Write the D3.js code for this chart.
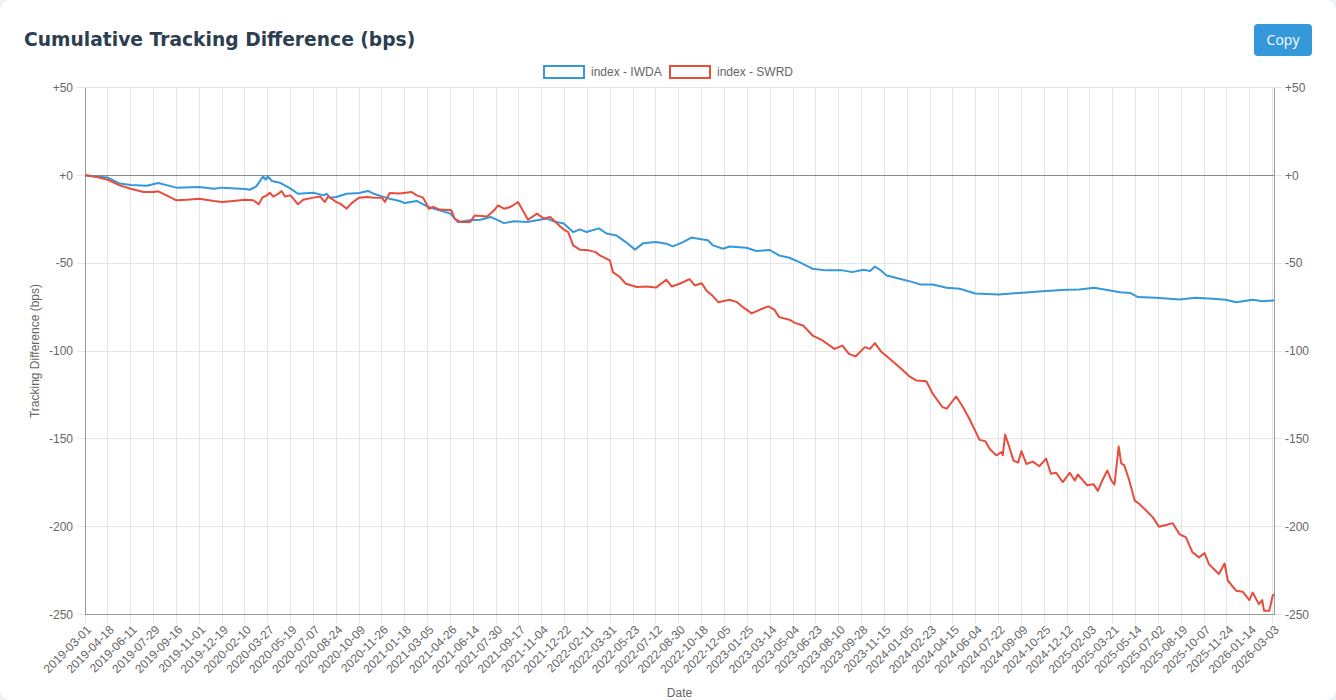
<!DOCTYPE html>
<html><head><meta charset="utf-8">
<script src="https://cdn.jsdelivr.net/npm/d3@7"></script>
<style>
html,body{margin:0;padding:0;background:#eef1f4;overflow:hidden}
svg{display:block}
</style></head>
<body>
<svg id="chart" width="1336" height="700"></svg>
<script>
const titleText = "Cumulative Tracking Difference (bps)";
const seriesNames = ["index - IWDA", "index - SWRD"];
const seriesColors = ["#3498db", "#e74c3c"];
const yTicks = [50, 0, -50, -100, -150, -200, -250];
const tickLabels = ["2019-03-01","2019-04-18","2019-06-11","2019-07-29","2019-09-16","2019-11-01","2019-12-19",
"2020-02-10","2020-03-27","2020-05-19","2020-07-07","2020-08-24","2020-10-09","2020-11-26",
"2021-01-18","2021-03-05","2021-04-26","2021-06-14","2021-07-30","2021-09-17","2021-11-04","2021-12-22",
"2022-02-11","2022-03-31","2022-05-23","2022-07-12","2022-08-30","2022-10-18","2022-12-05",
"2023-01-25","2023-03-14","2023-05-04","2023-06-23","2023-08-10","2023-09-28","2023-11-15",
"2024-01-05","2024-02-23","2024-04-15","2024-06-04","2024-07-22","2024-09-09","2024-10-25","2024-12-12",
"2025-02-03","2025-03-21","2025-05-14","2025-07-02","2025-08-19","2025-10-07","2025-11-24",
"2026-01-14","2026-03-03"];
const lastDataDate = "2026-03-05";

const iwdaDates = ["2019-03-01","2019-03-26","2019-04-18","2019-05-16","2019-06-11","2019-07-15","2019-08-08","2019-09-16","2019-11-01","2019-12-02","2019-12-19",
"2020-02-10","2020-02-20","2020-03-04","2020-03-18","2020-03-23","2020-03-27","2020-04-06","2020-04-24","2020-05-19","2020-06-04","2020-07-07","2020-07-28","2020-08-04","2020-08-11","2020-08-24","2020-09-14","2020-10-09","2020-10-28","2020-11-09","2020-11-26","2020-12-14",
"2021-01-06","2021-01-18","2021-02-11","2021-03-04","2021-04-01","2021-04-26","2021-05-12","2021-06-07","2021-06-28","2021-07-19","2021-08-16","2021-09-06","2021-10-04","2021-10-25","2021-11-15","2021-11-29","2021-12-20",
"2022-01-10","2022-01-25","2022-02-09","2022-03-07","2022-03-23","2022-04-14","2022-05-06","2022-05-27","2022-06-14","2022-07-12","2022-08-03","2022-08-17","2022-09-08","2022-09-26","2022-10-14","2022-10-31","2022-11-11","2022-12-02","2022-12-16",
"2023-01-23","2023-02-13","2023-03-13","2023-04-03","2023-04-26","2023-05-18","2023-06-16","2023-07-14","2023-08-18","2023-09-08","2023-10-02","2023-10-16","2023-10-26","2023-11-06","2023-11-20","2023-12-19",
"2024-01-17","2024-02-01","2024-02-29","2024-04-01","2024-04-30","2024-06-03","2024-07-23","2024-09-12","2024-10-29","2024-12-11",
"2025-01-09","2025-02-12","2025-03-07","2025-04-07","2025-05-02","2025-05-19","2025-06-27","2025-08-15","2025-09-19","2025-10-24","2025-11-21","2025-12-15",
"2026-01-20","2026-02-10","2026-03-03","2026-03-05"];
const iwdaValues = [0,-0.6,-1.3,-4.7,-5.5,-5.9,-4.4,-7.0,-6.7,-7.6,-7.0,
-7.8,-8.2,-6.3,-0.6,-2.5,-0.6,-3.2,-4.2,-7.6,-10.5,-9.9,-11.4,-10.5,-12.7,-12.3,-10.5,-10.1,-8.9,-10.5,-12.0,-13.3,
-14.6,-15.8,-14.6,-17.7,-19.9,-21.8,-26.6,-25.6,-25.3,-23.7,-27.2,-26.2,-26.6,-25.6,-24.6,-26.2,-27.4,
-32.3,-30.8,-32.3,-30.2,-33.1,-34.2,-38.0,-42.3,-38.6,-38.0,-38.9,-40.4,-38.0,-35.4,-36.2,-37.0,-39.9,-41.8,-40.5,
-41.2,-43.1,-42.5,-45.6,-46.9,-49.4,-53.2,-54.1,-54.1,-55.1,-53.8,-54.5,-51.9,-53.8,-57.0,-58.9,
-60.8,-62.1,-62.1,-64.0,-64.6,-67.3,-67.8,-66.8,-65.9,-65.1,
-65.0,-64.0,-65.1,-66.5,-67.0,-69.3,-69.7,-70.7,-69.7,-70.3,-70.8,-72.3,
-70.8,-71.7,-71.2,-71.2];

const swrdDates = ["2019-03-01","2019-03-26","2019-04-18","2019-05-16","2019-06-11","2019-07-08","2019-07-29","2019-08-08","2019-08-26","2019-09-16","2019-10-07","2019-11-01","2019-12-02","2019-12-19",
"2020-01-14","2020-02-10","2020-02-27","2020-03-09","2020-03-16","2020-03-25","2020-04-01","2020-04-09","2020-04-20","2020-04-28","2020-05-06","2020-05-19","2020-06-04","2020-06-15","2020-07-07","2020-07-21","2020-07-31","2020-08-07","2020-08-24","2020-09-01","2020-09-14","2020-09-24","2020-10-09","2020-10-26","2020-11-09","2020-11-26","2020-12-03","2020-12-14",
"2021-01-06","2021-02-01","2021-02-11","2021-02-24","2021-03-08","2021-03-18","2021-04-01","2021-04-28","2021-05-05","2021-05-17","2021-06-07","2021-06-17","2021-07-12","2021-07-26","2021-08-03","2021-08-16","2021-08-30","2021-09-15","2021-09-27","2021-10-06","2021-10-25","2021-11-08","2021-11-22","2021-12-06","2021-12-20","2021-12-30",
"2022-01-10","2022-01-25","2022-02-14","2022-02-28","2022-03-09","2022-03-30","2022-04-06","2022-04-22","2022-05-06","2022-05-31","2022-06-21","2022-07-12","2022-08-03","2022-08-15","2022-09-01","2022-09-22","2022-10-03","2022-10-18","2022-10-28","2022-11-11","2022-11-22","2022-12-16",
"2023-01-02","2023-01-16","2023-02-03","2023-02-21","2023-03-10","2023-03-23","2023-04-03","2023-04-26","2023-05-08","2023-05-26","2023-06-16","2023-07-07","2023-08-01","2023-08-18","2023-09-01","2023-09-15","2023-10-05","2023-10-16","2023-10-26","2023-11-09","2023-11-24","2023-12-19",
"2024-01-10","2024-01-25","2024-02-15","2024-02-29","2024-03-22","2024-04-01","2024-04-22","2024-05-07","2024-05-21","2024-06-12","2024-06-24","2024-07-03","2024-07-17","2024-07-29","2024-07-31","2024-08-05","2024-08-13","2024-08-23","2024-09-02","2024-09-09","2024-09-19","2024-10-02","2024-10-15","2024-10-29","2024-11-08","2024-11-19","2024-12-03","2024-12-18","2024-12-30",
"2025-01-06","2025-01-27","2025-02-10","2025-02-19","2025-02-28","2025-03-10","2025-03-18","2025-03-25","2025-03-28","2025-04-04","2025-04-10","2025-04-17","2025-04-29","2025-05-12","2025-05-22","2025-06-06","2025-06-20","2025-07-03","2025-07-18","2025-08-01","2025-08-15","2025-08-29","2025-09-12","2025-09-26","2025-10-08","2025-10-17","2025-10-31","2025-11-07","2025-11-19","2025-11-26","2025-12-15","2025-12-29",
"2026-01-13","2026-01-20","2026-02-02","2026-02-09","2026-02-13","2026-02-24","2026-03-03","2026-03-05"];
const swrdValues = [0,-1.0,-2.5,-5.7,-7.6,-9.5,-9.5,-9.1,-11.4,-14.2,-13.9,-13.3,-14.6,-15.2,
-14.6,-13.9,-14.2,-16.5,-12.7,-11.4,-9.9,-12.1,-10.6,-8.9,-12.0,-11.4,-16.5,-13.9,-12.7,-12.0,-15.2,-12.0,-15.2,-16.1,-19.0,-15.8,-12.7,-12.3,-12.7,-12.7,-15.2,-10.1,
-10.3,-9.5,-11.4,-12.7,-19.0,-18.0,-19.5,-19.9,-24.6,-26.6,-26.6,-22.8,-23.4,-19.9,-17.1,-19.0,-18.0,-15.2,-20.9,-25.3,-21.8,-24.6,-23.7,-27.4,-30.8,-32.3,
-39.9,-42.3,-42.7,-43.7,-45.6,-48.4,-55.1,-57.9,-61.7,-63.6,-63.3,-63.9,-59.4,-63.3,-61.7,-59.1,-62.7,-61.4,-65.5,-68.9,-72.2,-70.8,
-72.2,-75.2,-78.6,-76.4,-74.6,-76.4,-80.7,-82.2,-84.0,-85.5,-91.2,-94.0,-98.8,-96.9,-101.6,-103.1,-97.8,-98.8,-95.5,-100.6,-103.9,-109.2,
-114.5,-116.8,-117.2,-124.3,-131.9,-132.8,-125.9,-131.9,-138.6,-150.6,-151.3,-155.6,-159.4,-157.5,-159.4,-147.6,-153.8,-162.4,-163.5,-157.0,-164.3,-163.0,-165.6,-161.3,-169.9,-169.3,-174.6,-169.3,-173.7,
-170.3,-176.4,-175.8,-179.6,-173.7,-168.0,-173.7,-176.0,-169.5,-154.4,-164.0,-165.0,-173.7,-185.2,-187.1,-190.9,-194.7,-200.0,-199.0,-198.0,-204.2,-206.1,-214.6,-217.5,-215.0,-221.3,-225.1,-227.0,-221.0,-230.8,-236.5,-237.0,
-241.8,-237.5,-244.1,-241.8,-247.9,-247.9,-239.3,-238.5];

const parse = d3.timeParse("%Y-%m-%d");
const svg = d3.select("#chart");
const W = 1336, H = 700;
const m = {left: 85, right: 62, top: 87.5, bottom: 85.5};
const pw = W - m.left - m.right, ph = H - m.top - m.bottom;

svg.append("rect").attr("width", W).attr("height", H).attr("rx", 10).attr("fill", "#fff");

svg.append("text").attr("x", 24).attr("y", 46)
  .attr("font-family", "'DejaVu Sans', sans-serif").attr("font-weight", "bold").attr("font-size", 18.7)
  .attr("fill", "#2c3e50").text(titleText);

const btn = svg.append("g").attr("transform", "translate(1254,24)");
btn.append("rect").attr("width", 58).attr("height", 32).attr("rx", 4).attr("fill", "#3498db");
btn.append("text").attr("x", 29).attr("y", 21).attr("text-anchor", "middle")
  .attr("font-family", "'Open Sans', sans-serif").attr("font-size", 14).attr("fill", "#fff").text("Copy");

const tickDates = tickLabels.map(parse);
const stepCount = tickLabels.length - 1 + 2 / 34;
const step = pw / stepCount;
const x = d3.scaleTime()
  .domain(tickDates.concat([parse(lastDataDate)]))
  .range(tickDates.map((d, i) => i * step).concat([pw]));
const y = d3.scaleLinear().domain([-250, 50]).range([ph, 0]);

const g = svg.append("g").attr("transform", `translate(${m.left},${m.top})`);
const font = "'Liberation Sans', Arial, sans-serif";

g.selectAll(".vg").data(tickDates).join("line")
  .attr("x1", d => x(d)).attr("x2", d => x(d)).attr("y1", 0).attr("y2", ph + 8)
  .attr("stroke", "#e5e5e5").attr("stroke-width", 1).attr("shape-rendering", "crispEdges");
g.selectAll(".hg").data(yTicks).join("line")
  .attr("x1", -8).attr("x2", pw + 8).attr("y1", d => y(d)).attr("y2", d => y(d))
  .attr("stroke", d => d === 0 ? "#888" : "#e5e5e5").attr("stroke-width", 1).attr("shape-rendering", "crispEdges");
[-8, pw].forEach(x0 => g.append("line").attr("x1", x0).attr("x2", x0 + 8).attr("y1", y(0)).attr("y2", y(0))
  .attr("stroke", "#e5e5e5").attr("shape-rendering", "crispEdges"));

g.append("line").attr("x1", 0).attr("x2", 0).attr("y1", 0).attr("y2", ph).attr("stroke", "#999").attr("shape-rendering", "crispEdges");
g.append("line").attr("x1", pw).attr("x2", pw).attr("y1", 0).attr("y2", ph).attr("stroke", "#999").attr("shape-rendering", "crispEdges");
g.append("line").attr("x1", 0).attr("x2", pw).attr("y1", ph).attr("y2", ph).attr("stroke", "#999").attr("shape-rendering", "crispEdges");

const fmt = d => d > 0 ? "+" + d : (d === 0 ? "+0" : String(d));
g.selectAll(".yl").data(yTicks).join("text")
  .attr("x", -12).attr("y", d => y(d)).attr("dy", "0.35em").attr("text-anchor", "end")
  .attr("font-family", font).attr("font-size", 12).attr("fill", "#666").text(fmt);
g.selectAll(".yr").data(yTicks).join("text")
  .attr("x", pw + 11).attr("y", d => y(d)).attr("dy", "0.35em").attr("text-anchor", "start")
  .attr("font-family", font).attr("font-size", 12).attr("fill", "#666").text(fmt);

g.selectAll(".xl").data(tickLabels).join("text")
  .attr("transform", d => `translate(${x(parse(d)) + 4},${ph + 13}) rotate(-45)`)
  .attr("dy", "0.35em").attr("text-anchor", "end")
  .attr("font-family", font).attr("font-size", 12).attr("fill", "#666").text(d => d);

svg.append("text").attr("x", m.left + pw / 2).attr("y", 697).attr("text-anchor", "middle")
  .attr("font-family", font).attr("font-size", 12).attr("fill", "#666").text("Date");
svg.append("text").attr("transform", `translate(39,${m.top + ph / 2}) rotate(-90)`).attr("text-anchor", "middle")
  .attr("font-family", font).attr("font-size", 12).attr("fill", "#666").text("Tracking Difference (bps)");

const line = d3.line().x(d => x(d[0])).y(d => y(d[1]));
const series = [
  iwdaDates.map((d, i) => [parse(d), iwdaValues[i]]),
  swrdDates.map((d, i) => [parse(d), swrdValues[i]])
];
series.forEach((s, i) => {
  g.append("path").datum(s).attr("d", line).attr("fill", "none")
    .attr("stroke", seriesColors[i]).attr("stroke-width", 2).attr("stroke-linejoin", "round");
});

const leg = svg.append("g");
const legX = [544, 670];
seriesNames.forEach((n, i) => {
  leg.append("rect").attr("x", legX[i]).attr("y", 66).attr("width", 40).attr("height", 12)
    .attr("fill", "#fff").attr("stroke", seriesColors[i]).attr("stroke-width", 2);
  leg.append("text").attr("x", legX[i] + 47).attr("y", 72).attr("dy", "0.35em")
    .attr("font-family", font).attr("font-size", 12).attr("fill", "#666").text(n);
});
</script>
</body></html>
